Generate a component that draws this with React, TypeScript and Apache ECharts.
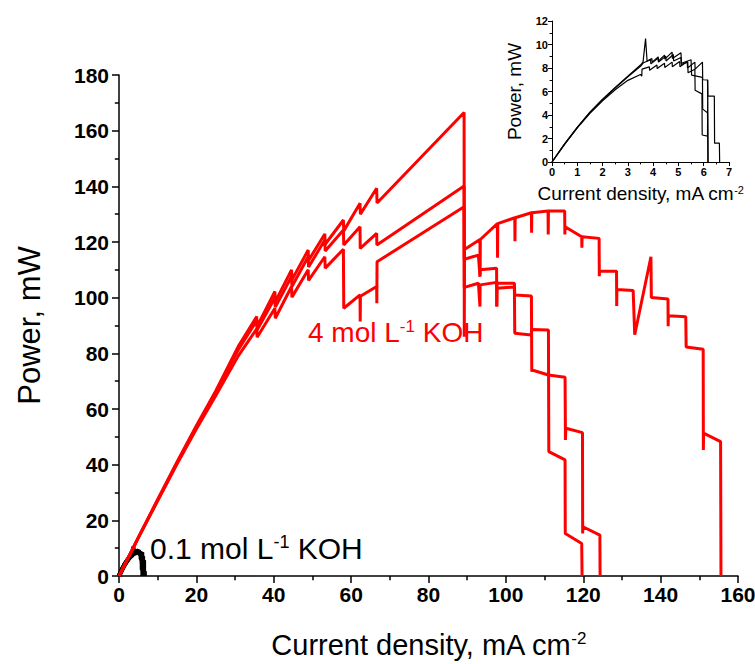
import React, { useEffect, useRef } from "react";
import * as echarts from "echarts";

// ---- 4 mol/L KOH, three repeated scans: [current density mA cm-2, power mW]
const koh4Scan1: [number, number][] = [
  [0, 0], [5, 13.9], [10, 27.5], [15, 41], [20, 54], [25, 66.5], [30.8, 82.4],
  [35.6, 93.2], [35.7, 89.7], [40.3, 102.2], [40.4, 98.6], [44.6, 110], [44.7, 106.4],
  [48.9, 117.1], [49, 113.4], [53.2, 122.9], [53.3, 119.2], [58, 127.9], [58.1, 124],
  [62.3, 133.9], [62.4, 130], [66.6, 139.3], [66.7, 134], [89.2, 166.5], [89.25, 86],
  [89.3, 117.3], [93.3, 120.9], [93.35, 108], [93.4, 120.9], [97.8, 126.6], [97.85, 114.3],
  [97.9, 126.6], [102.3, 128.7], [102.35, 120.3], [102.4, 128.7], [106.6, 130.5],
  [106.65, 123.3], [106.7, 130.5], [110.9, 131.1], [110.95, 122.7], [111, 131.1],
  [115.2, 131.1], [115.25, 122.7], [115.3, 125.5], [119.6, 121.9], [119.65, 117.9],
  [119.7, 121.9], [124.1, 121.3], [124.15, 107.7], [124.2, 109.5], [128.6, 109.5],
  [128.65, 97], [128.7, 102.9], [132.9, 102.6], [133.3, 86.7], [137.5, 114.7],
  [137.6, 100.1], [141.9, 99.5], [141.95, 89.7], [142, 93.5], [146.5, 93.1],
  [146.6, 82.3], [151, 81.5], [151.05, 45.3], [151.1, 51.3], [155.5, 48.3], [155.6, 0],
];
const koh4Scan2: [number, number][] = [
  [0, 0], [5, 13.8], [10, 27.3], [15, 40.7], [20, 53.6], [25, 66], [30.8, 81.2],
  [35.6, 91.8], [35.7, 88.4], [40.3, 100], [40.4, 96.6], [44.6, 107.6], [44.7, 104],
  [48.9, 114.7], [49, 111], [53.2, 120.7], [53.3, 116.8], [58, 124.3], [58.1, 118.9],
  [62.3, 125.5], [62.35, 117.7], [66.6, 123.1], [66.65, 118.9], [89.2, 140.1],
  [89.25, 113.8], [92.9, 115.3], [93.3, 107.5], [93.35, 110], [97.6, 110.6],
  [97.65, 96.8], [97.7, 105.2], [102.2, 105.2], [102.3, 101], [106.6, 100.6],
  [106.7, 73.4], [106.75, 74], [111, 72.2], [115.3, 71.4], [115.4, 48.9], [115.5, 53.1],
  [119.8, 51.5], [119.85, 15.3], [119.9, 17.7], [124.3, 14.7], [124.35, 0],
];
const koh4Scan3: [number, number][] = [
  [0, 0], [5, 13.7], [10, 27], [15, 40.2], [20, 52.8], [25, 64.8], [30.8, 79],
  [35.6, 88.8], [35.7, 85.8], [40.3, 96.2], [40.4, 92.6], [44.6, 104], [44.7, 100.2],
  [48.9, 110], [49, 106.2], [53.2, 114.7], [53.3, 110.6], [58, 117.4], [58.1, 96.2],
  [62.3, 101], [62.35, 91.4], [62.4, 100.5], [66.6, 104], [66.65, 98], [66.7, 112.9],
  [89.2, 132.7], [89.25, 103.7], [92.9, 105.2], [93.3, 96.8], [93.35, 104.6],
  [97.6, 105.5], [97.65, 96.8], [97.7, 103.4], [102.2, 103.8], [102.3, 87.2],
  [106.5, 86.6], [106.7, 88.6], [111, 88.4], [111.1, 44.7], [115.3, 41.7],
  [115.35, 15.3], [119.6, 11.7], [119.7, 0],
];

// ---- 0.1 mol/L KOH, three repeated scans (inset, also drawn in main plot)
const koh01Scan1: [number, number][] = [
  [0, 0], [0.5, 1.55], [1, 2.95], [1.5, 4.25], [2, 5.35], [2.5, 6.35], [3, 7.3],
  [3.5, 8.25], [3.6, 8.5], [3.7, 10.5], [3.76, 8.6], [3.95, 8.8], [3.96, 8.5],
  [4.2, 8.95], [4.21, 8.6], [4.45, 9.1], [4.46, 8.75], [4.75, 9.35], [4.76, 8.8],
  [5.1, 9.3], [5.12, 8.4], [5.5, 8.7], [5.52, 7.4], [5.95, 7.2], [5.96, 4.5],
  [6.15, 4.2], [6.17, 0],
];
const koh01Scan2: [number, number][] = [
  [0, 0], [0.5, 1.55], [1, 2.95], [1.5, 4.22], [2, 5.3], [2.5, 6.3], [3, 7.25],
  [3.5, 8.15], [3.62, 8.45], [3.9, 8.7], [3.91, 8.35], [4.2, 8.85], [4.21, 8.5],
  [4.5, 9.0], [4.51, 8.6], [4.8, 9.15], [4.81, 8.6], [5.1, 8.9], [5.11, 8.3],
  [5.37, 8.5], [5.38, 7.6], [5.65, 7.9], [5.66, 6.1], [5.93, 5.8], [5.94, 2.3],
  [6.15, 2.2], [6.16, 7.0], [6.17, 0],
];
const koh01Scan3: [number, number][] = [
  [0, 0], [0.5, 1.5], [1, 2.9], [1.5, 4.15], [2, 5.2], [2.5, 6.15], [3, 6.95],
  [3.5, 7.45], [3.55, 7.3], [3.56, 7.9], [3.85, 8.1], [3.86, 7.8], [4.15, 8.25],
  [4.16, 7.95], [4.45, 8.4], [4.46, 8.05], [4.75, 8.5], [4.76, 8.1], [5.05, 8.55],
  [5.06, 8.1], [5.35, 8.55], [5.36, 8.0], [5.65, 8.5], [5.66, 7.9], [5.95, 8.5],
  [5.96, 7.0], [6.15, 6.98], [6.16, 5.6], [6.42, 5.6], [6.43, 1.6], [6.62, 1.6],
  [6.63, 0],
];

// ---- axes
const mainXTicks = { min: 0, max: 160, interval: 20 };
const mainYTicks = { min: 0, max: 180, interval: 20 };
const insetXTicks = { min: 0, max: 7, interval: 1 };
const insetYTicks = { min: 0, max: 12, interval: 2 };

const FONT = 'Arial, "Liberation Sans", Helvetica, sans-serif';

export default function App() {
  const ref = useRef<HTMLDivElement>(null);
  useEffect(() => {
    if (!ref.current) return;
    const chart = echarts.init(ref.current, undefined, { renderer: "svg" });

    const axisCommon = (fontSize: number, lineW: number, tickLen: number, margin: number) => ({
      axisLine: { show: true, onZero: false, lineStyle: { color: "#000", width: lineW } },
      axisTick: { show: true, inside: false, length: tickLen, lineStyle: { color: "#000", width: lineW } },
      minorTick: { show: true, splitNumber: 2, length: tickLen * 0.6, lineStyle: { color: "#000", width: lineW } },
      splitLine: { show: false },
      minorSplitLine: { show: false },
      axisLabel: { color: "#000", fontSize, fontWeight: "bold", fontFamily: FONT, margin },
    });

    const nameRich = (size: number) => ({
      color: "#000",
      fontFamily: FONT,
      fontSize: size,
      rich: {
        n: { fontSize: size, fontFamily: FONT, color: "#000" },
        s: { fontSize: Math.round(size * 0.6), fontFamily: FONT, color: "#000", verticalAlign: "top" },
      },
    });

    const red = (data: [number, number][]) => ({
      type: "line",
      xAxisIndex: 0,
      yAxisIndex: 0,
      data,
      showSymbol: false,
      symbol: "none",
      lineStyle: { color: "#ff0000", width: 3 },
      z: 3,
    });
    const blackMain = (data: [number, number][]) => ({
      type: "line",
      xAxisIndex: 0,
      yAxisIndex: 0,
      data,
      showSymbol: false,
      symbol: "none",
      lineStyle: { color: "#000", width: 4.5 },
      z: 2,
    });
    const blackInset = (data: [number, number][]) => ({
      type: "line",
      xAxisIndex: 1,
      yAxisIndex: 1,
      data,
      showSymbol: false,
      symbol: "none",
      lineStyle: { color: "#000", width: 1.2 },
      z: 2,
    });

    chart.setOption({
      animation: false,
      backgroundColor: "#fff",
      grid: [
        { left: 119, right: 17, top: 75, bottom: 88, containLabel: false, outerBoundsMode: "none" },
        { left: 552, right: 26, top: 21, bottom: 502, containLabel: false, outerBoundsMode: "none" },
      ],
      xAxis: [
        {
          type: "value",
          gridIndex: 0,
          ...mainXTicks,
          ...axisCommon(21, 1.5, 7, 8),
          name: "{n|Current density, mA cm}{s|-2}",
          nameLocation: "middle",
          nameGap: 54,
          nameTextStyle: nameRich(29),
        },
        {
          type: "value",
          gridIndex: 1,
          ...insetXTicks,
          ...axisCommon(11, 1, 4, 4),
          name: "{n|Current density, mA cm}{s|-2}",
          nameLocation: "middle",
          nameGap: 22,
          nameTextStyle: nameRich(19),
        },
      ],
      yAxis: [
        {
          type: "value",
          gridIndex: 0,
          ...mainYTicks,
          ...axisCommon(21, 1.5, 7, 10),
          name: "Power, mW",
          nameLocation: "middle",
          nameGap: 74,
          nameTextStyle: { color: "#000", fontFamily: FONT, fontSize: 31 },
        },
        {
          type: "value",
          gridIndex: 1,
          ...insetYTicks,
          ...axisCommon(11, 1, 4, 4),
          name: "Power, mW",
          nameLocation: "middle",
          nameGap: 28,
          nameTextStyle: { color: "#000", fontFamily: FONT, fontSize: 19 },
        },
      ],
      graphic: [
        {
          type: "text",
          left: 308,
          top: 318,
          style: {
            text: "{n|4 mol L}{s|-1}{n| KOH}",
            fill: "#ff0000",
            rich: {
              n: { fontSize: 28, fontFamily: FONT, fill: "#ff0000" },
              s: { fontSize: 17, fontFamily: FONT, fill: "#ff0000", verticalAlign: "top" },
            },
          },
        },
        {
          type: "text",
          left: 150,
          top: 533,
          style: {
            text: "{n|0.1 mol L}{s|-1}{n| KOH}",
            fill: "#000",
            rich: {
              n: { fontSize: 30, fontFamily: FONT, fill: "#000" },
              s: { fontSize: 18, fontFamily: FONT, fill: "#000", verticalAlign: "top" },
            },
          },
        },
      ],
      series: [
        blackMain(koh01Scan1),
        blackMain(koh01Scan2),
        blackMain(koh01Scan3),
        red(koh4Scan1),
        red(koh4Scan2),
        red(koh4Scan3),
        blackInset(koh01Scan1),
        blackInset(koh01Scan2),
        blackInset(koh01Scan3),
      ],
    });
    return () => chart.dispose();
  }, []);
  return <div ref={ref} style={{ width: 755, height: 664, position: "absolute", left: 0, top: 0 }} />;
}
